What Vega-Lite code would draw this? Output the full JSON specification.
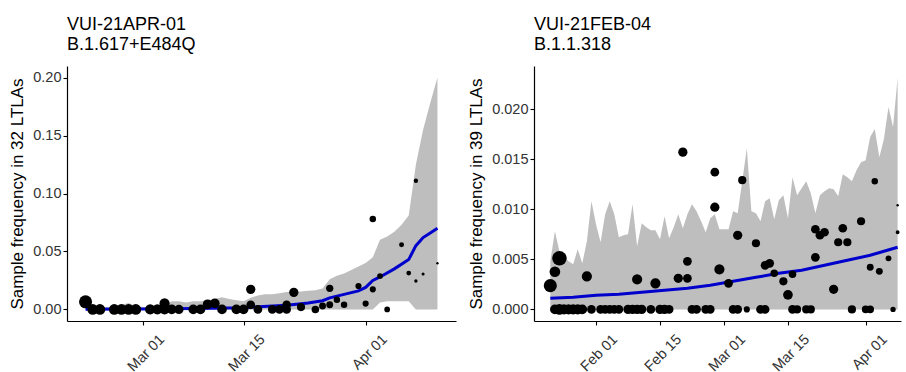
{
  "$schema": "https://vega.github.io/schema/vega-lite/v6.json",
  "background": "white",
  "padding": {"left": 8, "top": 16, "right": 0, "bottom": 0},
  "spacing": 11,
  "config": {
    "font": "Liberation Sans",
    "view": {"stroke": null},
    "axis": {"grid": false, "domainColor": "black", "domainWidth": 1.2, "tickColor": "black", "tickWidth": 1.1, "tickSize": 4, "labelColor": "#333333", "labelFontSize": 14.5, "titleFontSize": 17, "titleFontWeight": "normal", "titleColor": "black", "labelPadding": 2, "titlePadding": 6},
    "title": {"fontSize": 18, "fontWeight": "normal", "anchor": "start", "frame": "group", "lineHeight": 20, "color": "black", "offset": 12}
  },
  "datasets": {
    "a_band": [
      {"date": "2021-02-21", "lo": 0, "hi": 0.002},
      {"date": "2021-02-22", "lo": 0, "hi": 0.002},
      {"date": "2021-02-23", "lo": 0, "hi": 0.002},
      {"date": "2021-02-24", "lo": 0, "hi": 0.002},
      {"date": "2021-02-25", "lo": 0, "hi": 0.003},
      {"date": "2021-02-26", "lo": 0, "hi": 0.004},
      {"date": "2021-02-27", "lo": 0, "hi": 0.0055},
      {"date": "2021-02-28", "lo": 0, "hi": 0.003},
      {"date": "2021-03-01", "lo": 0, "hi": 0.002},
      {"date": "2021-03-02", "lo": 0, "hi": 0.002},
      {"date": "2021-03-03", "lo": 0, "hi": 0.003},
      {"date": "2021-03-04", "lo": 0, "hi": 0.004},
      {"date": "2021-03-05", "lo": 0, "hi": 0.007},
      {"date": "2021-03-06", "lo": 0, "hi": 0.007},
      {"date": "2021-03-07", "lo": 0, "hi": 0.006},
      {"date": "2021-03-08", "lo": 0, "hi": 0.007},
      {"date": "2021-03-09", "lo": 0, "hi": 0.007},
      {"date": "2021-03-10", "lo": 0, "hi": 0.008},
      {"date": "2021-03-11", "lo": 0, "hi": 0.009},
      {"date": "2021-03-12", "lo": 0, "hi": 0.0105},
      {"date": "2021-03-13", "lo": 0, "hi": 0.009},
      {"date": "2021-03-14", "lo": 0, "hi": 0.008},
      {"date": "2021-03-15", "lo": 0, "hi": 0.007},
      {"date": "2021-03-16", "lo": 0, "hi": 0.01},
      {"date": "2021-03-17", "lo": 0, "hi": 0.012},
      {"date": "2021-03-18", "lo": 0, "hi": 0.013},
      {"date": "2021-03-19", "lo": 0, "hi": 0.013},
      {"date": "2021-03-20", "lo": 0, "hi": 0.014},
      {"date": "2021-03-21", "lo": 0, "hi": 0.015},
      {"date": "2021-03-22", "lo": 0, "hi": 0.015},
      {"date": "2021-03-23", "lo": 0, "hi": 0.0155},
      {"date": "2021-03-24", "lo": 0, "hi": 0.016},
      {"date": "2021-03-25", "lo": 0, "hi": 0.0165},
      {"date": "2021-03-26", "lo": 0, "hi": 0.018},
      {"date": "2021-03-27", "lo": 0, "hi": 0.026},
      {"date": "2021-03-28", "lo": 0, "hi": 0.029},
      {"date": "2021-03-29", "lo": 0, "hi": 0.031},
      {"date": "2021-03-30", "lo": 0, "hi": 0.034},
      {"date": "2021-03-31", "lo": 0, "hi": 0.037},
      {"date": "2021-04-01", "lo": 0, "hi": 0.04},
      {"date": "2021-04-02", "lo": 0, "hi": 0.045},
      {"date": "2021-04-03", "lo": 0.006, "hi": 0.06},
      {"date": "2021-04-04", "lo": 0.007, "hi": 0.063},
      {"date": "2021-04-05", "lo": 0.007, "hi": 0.067},
      {"date": "2021-04-06", "lo": 0.007, "hi": 0.073},
      {"date": "2021-04-07", "lo": 0.007, "hi": 0.081},
      {"date": "2021-04-08", "lo": 0, "hi": 0.125},
      {"date": "2021-04-09", "lo": 0, "hi": 0.155},
      {"date": "2021-04-10", "lo": 0, "hi": 0.178},
      {"date": "2021-04-11", "lo": 0, "hi": 0.2}
    ],
    "a_fit": [
      {"date": "2021-02-21", "fit": 0.0002},
      {"date": "2021-03-01", "fit": 0.0004},
      {"date": "2021-03-08", "fit": 0.0008},
      {"date": "2021-03-15", "fit": 0.0015},
      {"date": "2021-03-21", "fit": 0.0035},
      {"date": "2021-03-24", "fit": 0.0055},
      {"date": "2021-03-26", "fit": 0.0075},
      {"date": "2021-03-27", "fit": 0.01},
      {"date": "2021-03-29", "fit": 0.013},
      {"date": "2021-03-31", "fit": 0.016},
      {"date": "2021-04-01", "fit": 0.019},
      {"date": "2021-04-02", "fit": 0.025},
      {"date": "2021-04-03", "fit": 0.028},
      {"date": "2021-04-05", "fit": 0.035},
      {"date": "2021-04-07", "fit": 0.043},
      {"date": "2021-04-08", "fit": 0.055},
      {"date": "2021-04-09", "fit": 0.062},
      {"date": "2021-04-10", "fit": 0.066},
      {"date": "2021-04-11", "fit": 0.07}
    ],
    "a_pts": [
      {"date": "2021-02-21", "freq": 0.0066, "n": 90},
      {"date": "2021-02-22", "freq": 0, "n": 60},
      {"date": "2021-02-23", "freq": 0, "n": 60},
      {"date": "2021-02-25", "freq": 0, "n": 60},
      {"date": "2021-02-26", "freq": 0, "n": 60},
      {"date": "2021-02-27", "freq": 0, "n": 60},
      {"date": "2021-02-28", "freq": 0, "n": 60},
      {"date": "2021-03-02", "freq": 0, "n": 55},
      {"date": "2021-03-03", "freq": 0, "n": 55},
      {"date": "2021-03-04", "freq": 0, "n": 55},
      {"date": "2021-03-04", "freq": 0.0052, "n": 55},
      {"date": "2021-03-05", "freq": 0, "n": 50},
      {"date": "2021-03-06", "freq": 0, "n": 45},
      {"date": "2021-03-08", "freq": 0, "n": 50},
      {"date": "2021-03-09", "freq": 0, "n": 50},
      {"date": "2021-03-10", "freq": 0.0044, "n": 50},
      {"date": "2021-03-11", "freq": 0.0052, "n": 50},
      {"date": "2021-03-12", "freq": 0, "n": 50},
      {"date": "2021-03-14", "freq": 0, "n": 50},
      {"date": "2021-03-15", "freq": 0, "n": 50},
      {"date": "2021-03-16", "freq": 0.0173, "n": 45},
      {"date": "2021-03-16", "freq": 0.004, "n": 40},
      {"date": "2021-03-17", "freq": 0, "n": 40},
      {"date": "2021-03-19", "freq": 0, "n": 40},
      {"date": "2021-03-20", "freq": 0, "n": 40},
      {"date": "2021-03-21", "freq": 0, "n": 40},
      {"date": "2021-03-21", "freq": 0.004, "n": 40},
      {"date": "2021-03-22", "freq": 0.0147, "n": 45},
      {"date": "2021-03-23", "freq": 0.002, "n": 35},
      {"date": "2021-03-25", "freq": 0, "n": 30},
      {"date": "2021-03-26", "freq": 0.003, "n": 25},
      {"date": "2021-03-27", "freq": 0.004, "n": 25},
      {"date": "2021-03-27", "freq": 0.0182, "n": 28},
      {"date": "2021-03-28", "freq": 0.0084, "n": 22},
      {"date": "2021-03-29", "freq": 0.004, "n": 22},
      {"date": "2021-03-31", "freq": 0.0202, "n": 20},
      {"date": "2021-04-01", "freq": 0.005, "n": 20},
      {"date": "2021-04-02", "freq": 0.078, "n": 22},
      {"date": "2021-04-02", "freq": 0.0173, "n": 20},
      {"date": "2021-04-03", "freq": 0.0288, "n": 17},
      {"date": "2021-04-04", "freq": 0, "n": 17},
      {"date": "2021-04-06", "freq": 0.0558, "n": 13},
      {"date": "2021-04-07", "freq": 0.0314, "n": 12},
      {"date": "2021-04-08", "freq": 0.111, "n": 10},
      {"date": "2021-04-08", "freq": 0.0245, "n": 6},
      {"date": "2021-04-09", "freq": 0.0306, "n": 5},
      {"date": "2021-04-11", "freq": 0.0398, "n": 3}
    ],
    "b_band": [
      {"date": "2021-01-22", "lo": 0, "hi": 0.0048},
      {"date": "2021-01-23", "lo": 0, "hi": 0.0078},
      {"date": "2021-01-24", "lo": 0, "hi": 0.0058},
      {"date": "2021-01-25", "lo": 0, "hi": 0.0052},
      {"date": "2021-01-26", "lo": 0, "hi": 0.0048},
      {"date": "2021-01-27", "lo": 0, "hi": 0.0045},
      {"date": "2021-01-28", "lo": 0, "hi": 0.006},
      {"date": "2021-01-29", "lo": 0, "hi": 0.0046},
      {"date": "2021-01-30", "lo": 0, "hi": 0.0068},
      {"date": "2021-01-31", "lo": 0, "hi": 0.0108},
      {"date": "2021-02-01", "lo": 0, "hi": 0.0085},
      {"date": "2021-02-02", "lo": 0, "hi": 0.0067},
      {"date": "2021-02-03", "lo": 0, "hi": 0.0095},
      {"date": "2021-02-04", "lo": 0, "hi": 0.0108},
      {"date": "2021-02-05", "lo": 0, "hi": 0.0095},
      {"date": "2021-02-06", "lo": 0, "hi": 0.0072},
      {"date": "2021-02-07", "lo": 0, "hi": 0.0074},
      {"date": "2021-02-08", "lo": 0, "hi": 0.0075},
      {"date": "2021-02-09", "lo": 0, "hi": 0.0105},
      {"date": "2021-02-10", "lo": 0, "hi": 0.0063},
      {"date": "2021-02-11", "lo": 0, "hi": 0.0086},
      {"date": "2021-02-12", "lo": 0, "hi": 0.0082},
      {"date": "2021-02-13", "lo": 0, "hi": 0.0079},
      {"date": "2021-02-14", "lo": 0, "hi": 0.0079},
      {"date": "2021-02-15", "lo": 0, "hi": 0.007},
      {"date": "2021-02-16", "lo": 0, "hi": 0.0093},
      {"date": "2021-02-17", "lo": 0, "hi": 0.0071},
      {"date": "2021-02-18", "lo": 0, "hi": 0.0082},
      {"date": "2021-02-19", "lo": 0, "hi": 0.0095},
      {"date": "2021-02-20", "lo": 0, "hi": 0.0081},
      {"date": "2021-02-21", "lo": 0, "hi": 0.0095},
      {"date": "2021-02-22", "lo": 0, "hi": 0.0105},
      {"date": "2021-02-23", "lo": 0, "hi": 0.0098},
      {"date": "2021-02-24", "lo": 0, "hi": 0.0088},
      {"date": "2021-02-25", "lo": 0, "hi": 0.0077},
      {"date": "2021-02-26", "lo": 0, "hi": 0.0091},
      {"date": "2021-02-27", "lo": 0, "hi": 0.0095},
      {"date": "2021-02-28", "lo": 0, "hi": 0.008},
      {"date": "2021-03-01", "lo": 0, "hi": 0.008},
      {"date": "2021-03-02", "lo": 0, "hi": 0.008},
      {"date": "2021-03-03", "lo": 0, "hi": 0.0098},
      {"date": "2021-03-04", "lo": 0, "hi": 0.0096},
      {"date": "2021-03-05", "lo": 0, "hi": 0.0128},
      {"date": "2021-03-06", "lo": 0, "hi": 0.0161},
      {"date": "2021-03-07", "lo": 0, "hi": 0.0098},
      {"date": "2021-03-08", "lo": 0, "hi": 0.0096},
      {"date": "2021-03-09", "lo": 0, "hi": 0.0088},
      {"date": "2021-03-10", "lo": 0, "hi": 0.0108},
      {"date": "2021-03-11", "lo": 0, "hi": 0.0111},
      {"date": "2021-03-12", "lo": 0, "hi": 0.009},
      {"date": "2021-03-13", "lo": 0, "hi": 0.0109},
      {"date": "2021-03-14", "lo": 0, "hi": 0.0114},
      {"date": "2021-03-15", "lo": 0, "hi": 0.0091},
      {"date": "2021-03-16", "lo": 0, "hi": 0.0132},
      {"date": "2021-03-17", "lo": 0, "hi": 0.0114},
      {"date": "2021-03-18", "lo": 0, "hi": 0.0121},
      {"date": "2021-03-19", "lo": 0, "hi": 0.0128},
      {"date": "2021-03-20", "lo": 0, "hi": 0.0116},
      {"date": "2021-03-21", "lo": 0, "hi": 0.0096},
      {"date": "2021-03-22", "lo": 0, "hi": 0.0114},
      {"date": "2021-03-23", "lo": 0, "hi": 0.0118},
      {"date": "2021-03-24", "lo": 0, "hi": 0.0121},
      {"date": "2021-03-25", "lo": 0, "hi": 0.012},
      {"date": "2021-03-26", "lo": 0, "hi": 0.0113},
      {"date": "2021-03-27", "lo": 0, "hi": 0.0135},
      {"date": "2021-03-28", "lo": 0, "hi": 0.0132},
      {"date": "2021-03-29", "lo": 0, "hi": 0.0128},
      {"date": "2021-03-30", "lo": 0, "hi": 0.0139},
      {"date": "2021-03-31", "lo": 0, "hi": 0.0147},
      {"date": "2021-04-01", "lo": 0, "hi": 0.0149},
      {"date": "2021-04-02", "lo": 0, "hi": 0.0172},
      {"date": "2021-04-03", "lo": 0, "hi": 0.018},
      {"date": "2021-04-04", "lo": 0, "hi": 0.0152},
      {"date": "2021-04-05", "lo": 0, "hi": 0.017},
      {"date": "2021-04-06", "lo": 0, "hi": 0.0202},
      {"date": "2021-04-07", "lo": 0, "hi": 0.0182},
      {"date": "2021-04-08", "lo": 0, "hi": 0.0231}
    ],
    "b_fit": [
      {"date": "2021-01-22", "fit": 0.00112},
      {"date": "2021-01-27", "fit": 0.00122},
      {"date": "2021-02-01", "fit": 0.0014},
      {"date": "2021-02-06", "fit": 0.0015},
      {"date": "2021-02-11", "fit": 0.0017},
      {"date": "2021-02-16", "fit": 0.0019},
      {"date": "2021-02-21", "fit": 0.0021},
      {"date": "2021-02-26", "fit": 0.0024},
      {"date": "2021-03-03", "fit": 0.0028},
      {"date": "2021-03-08", "fit": 0.0032},
      {"date": "2021-03-13", "fit": 0.0036},
      {"date": "2021-03-18", "fit": 0.0039},
      {"date": "2021-03-23", "fit": 0.0044},
      {"date": "2021-03-28", "fit": 0.0049},
      {"date": "2021-04-02", "fit": 0.0054},
      {"date": "2021-04-08", "fit": 0.0062}
    ],
    "b_pts": [
      {"date": "2021-01-22", "freq": 0.00237, "n": 90},
      {"date": "2021-01-23", "freq": 0.00376, "n": 60},
      {"date": "2021-01-23", "freq": 0, "n": 50},
      {"date": "2021-01-24", "freq": 0.0051, "n": 110},
      {"date": "2021-01-24", "freq": 0, "n": 60},
      {"date": "2021-01-25", "freq": 0, "n": 55},
      {"date": "2021-01-26", "freq": 0, "n": 55},
      {"date": "2021-01-27", "freq": 0, "n": 55},
      {"date": "2021-01-28", "freq": 0, "n": 55},
      {"date": "2021-01-29", "freq": 0, "n": 50},
      {"date": "2021-01-30", "freq": 0.0033, "n": 55},
      {"date": "2021-01-31", "freq": 0, "n": 40},
      {"date": "2021-02-02", "freq": 0, "n": 40},
      {"date": "2021-02-03", "freq": 0, "n": 40},
      {"date": "2021-02-04", "freq": 0, "n": 40},
      {"date": "2021-02-05", "freq": 0, "n": 40},
      {"date": "2021-02-06", "freq": 0, "n": 40},
      {"date": "2021-02-08", "freq": 0, "n": 45},
      {"date": "2021-02-09", "freq": 0, "n": 45},
      {"date": "2021-02-10", "freq": 0.003, "n": 55},
      {"date": "2021-02-10", "freq": 0, "n": 45},
      {"date": "2021-02-11", "freq": 0, "n": 45},
      {"date": "2021-02-13", "freq": 0, "n": 40},
      {"date": "2021-02-14", "freq": 0.0026, "n": 55},
      {"date": "2021-02-15", "freq": 0, "n": 45},
      {"date": "2021-02-16", "freq": 0, "n": 45},
      {"date": "2021-02-17", "freq": 0, "n": 40},
      {"date": "2021-02-19", "freq": 0.0031, "n": 45},
      {"date": "2021-02-20", "freq": 0.0157, "n": 45},
      {"date": "2021-02-21", "freq": 0.0048, "n": 40},
      {"date": "2021-02-21", "freq": 0.0031, "n": 40},
      {"date": "2021-02-22", "freq": 0, "n": 40},
      {"date": "2021-02-23", "freq": 0, "n": 40},
      {"date": "2021-02-25", "freq": 0, "n": 40},
      {"date": "2021-02-26", "freq": 0, "n": 40},
      {"date": "2021-02-27", "freq": 0.0137, "n": 40},
      {"date": "2021-02-27", "freq": 0.0102, "n": 45},
      {"date": "2021-02-28", "freq": 0.004, "n": 55},
      {"date": "2021-03-02", "freq": 0.0026, "n": 40},
      {"date": "2021-03-03", "freq": 0, "n": 40},
      {"date": "2021-03-04", "freq": 0, "n": 40},
      {"date": "2021-03-04", "freq": 0.0074, "n": 45},
      {"date": "2021-03-05", "freq": 0.0129, "n": 35},
      {"date": "2021-03-06", "freq": 0, "n": 20},
      {"date": "2021-03-08", "freq": 0.0066, "n": 35},
      {"date": "2021-03-09", "freq": 0, "n": 40},
      {"date": "2021-03-10", "freq": 0, "n": 40},
      {"date": "2021-03-10", "freq": 0.0044, "n": 40},
      {"date": "2021-03-11", "freq": 0.0046, "n": 40},
      {"date": "2021-03-12", "freq": 0.0036, "n": 30},
      {"date": "2021-03-14", "freq": 0.0028, "n": 35},
      {"date": "2021-03-15", "freq": 0.00145, "n": 50},
      {"date": "2021-03-16", "freq": 0, "n": 40},
      {"date": "2021-03-16", "freq": 0.0035, "n": 30},
      {"date": "2021-03-17", "freq": 0, "n": 35},
      {"date": "2021-03-19", "freq": 0, "n": 35},
      {"date": "2021-03-20", "freq": 0, "n": 35},
      {"date": "2021-03-21", "freq": 0.0052, "n": 40},
      {"date": "2021-03-21", "freq": 0.008, "n": 40},
      {"date": "2021-03-22", "freq": 0.0074, "n": 40},
      {"date": "2021-03-23", "freq": 0.0077, "n": 40},
      {"date": "2021-03-25", "freq": 0.002, "n": 45},
      {"date": "2021-03-26", "freq": 0.0067, "n": 35},
      {"date": "2021-03-27", "freq": 0.0081, "n": 40},
      {"date": "2021-03-28", "freq": 0.0067, "n": 35},
      {"date": "2021-03-29", "freq": 0, "n": 35},
      {"date": "2021-03-31", "freq": 0.0088, "n": 35},
      {"date": "2021-04-01", "freq": 0, "n": 30},
      {"date": "2021-04-02", "freq": 0, "n": 30},
      {"date": "2021-04-02", "freq": 0.0042, "n": 25},
      {"date": "2021-04-03", "freq": 0.0128, "n": 22},
      {"date": "2021-04-04", "freq": 0.0038, "n": 25},
      {"date": "2021-04-06", "freq": 0.0051, "n": 18},
      {"date": "2021-04-07", "freq": 0, "n": 15},
      {"date": "2021-04-08", "freq": 0.0077, "n": 8},
      {"date": "2021-04-08", "freq": 0.0104, "n": 3}
    ]
  },
  "hconcat": [
    {
      "width": 389,
      "height": 255,
      "title": {"text": ["VUI-21APR-01", "B.1.617+E484Q"]},
      "layer": [
        {
          "data": {"name": "a_band"},
          "mark": {"type": "area", "color": "#bebebe", "opacity": 1},
          "encoding": {
            "x": {"field": "date", "type": "temporal", "title": null,
              "scale": {"type": "utc", "domain": [{"year": 2021, "month": 2, "date": 18, "hours": 10, "utc": true}, {"year": 2021, "month": 4, "date": 13, "hours": 14, "utc": true}]},
              "axis": {"values": [{"year": 2021, "month": 3, "date": 1, "utc": true}, {"year": 2021, "month": 3, "date": 15, "utc": true}, {"year": 2021, "month": 4, "date": 1, "utc": true}], "format": "%b %d", "labelAngle": -45, "labelAlign": "right", "labelBaseline": "top", "labelOffset": 14, "labelPadding": 7}},
            "y": {"field": "lo", "type": "quantitative", "title": "Sample frequency in 32 LTLAs",
              "scale": {"domain": [-0.01, 0.21], "nice": false, "zero": false},
              "axis": {"values": [0, 0.05, 0.1, 0.15, 0.2], "format": ".2f"}},
            "y2": {"field": "hi"}
          }
        },
        {
          "data": {"name": "a_fit"},
          "mark": {"type": "line", "color": "#0000cc", "strokeWidth": 3},
          "encoding": {
            "x": {"field": "date", "type": "temporal", "title": null},
            "y": {"field": "fit", "type": "quantitative", "title": "Sample frequency in 32 LTLAs"}
          }
        },
        {
          "data": {"name": "a_pts"},
          "mark": {"type": "circle", "color": "black", "opacity": 1},
          "encoding": {
            "x": {"field": "date", "type": "temporal", "title": null},
            "y": {"field": "freq", "type": "quantitative", "title": "Sample frequency in 32 LTLAs"},
            "size": {"field": "n", "type": "quantitative", "scale": {"domain": [0, 100], "range": [0, 190]}, "legend": null}
          }
        }
      ]
    },
    {
      "width": 367,
      "height": 255,
      "title": {"text": ["VUI-21FEB-04", "B.1.1.318"]},
      "layer": [
        {
          "data": {"name": "b_band"},
          "mark": {"type": "area", "color": "#bebebe", "opacity": 1},
          "encoding": {
            "x": {"field": "date", "type": "temporal", "title": null,
              "scale": {"type": "utc", "domain": [{"year": 2021, "month": 1, "date": 18, "hours": 10, "minutes": 19, "utc": true}, {"year": 2021, "month": 4, "date": 8, "hours": 17, "minutes": 45, "utc": true}]},
              "axis": {"values": [{"year": 2021, "month": 2, "date": 1, "utc": true}, {"year": 2021, "month": 2, "date": 15, "utc": true}, {"year": 2021, "month": 3, "date": 1, "utc": true}, {"year": 2021, "month": 3, "date": 15, "utc": true}, {"year": 2021, "month": 4, "date": 1, "utc": true}], "format": "%b %d", "labelAngle": -45, "labelAlign": "right", "labelBaseline": "top", "labelOffset": 14, "labelPadding": 7}},
            "y": {"field": "lo", "type": "quantitative", "title": "Sample frequency in 39 LTLAs",
              "scale": {"domain": [-0.00116, 0.0243], "nice": false, "zero": false},
              "axis": {"values": [0, 0.005, 0.01, 0.015, 0.02], "format": ".3f"}},
            "y2": {"field": "hi"}
          }
        },
        {
          "data": {"name": "b_fit"},
          "mark": {"type": "line", "color": "#0000cc", "strokeWidth": 3},
          "encoding": {
            "x": {"field": "date", "type": "temporal", "title": null},
            "y": {"field": "fit", "type": "quantitative", "title": "Sample frequency in 39 LTLAs"}
          }
        },
        {
          "data": {"name": "b_pts"},
          "mark": {"type": "circle", "color": "black", "opacity": 1},
          "encoding": {
            "x": {"field": "date", "type": "temporal", "title": null},
            "y": {"field": "freq", "type": "quantitative", "title": "Sample frequency in 39 LTLAs"},
            "size": {"field": "n", "type": "quantitative", "scale": {"domain": [0, 100], "range": [0, 190]}, "legend": null}
          }
        }
      ]
    }
  ]
}
